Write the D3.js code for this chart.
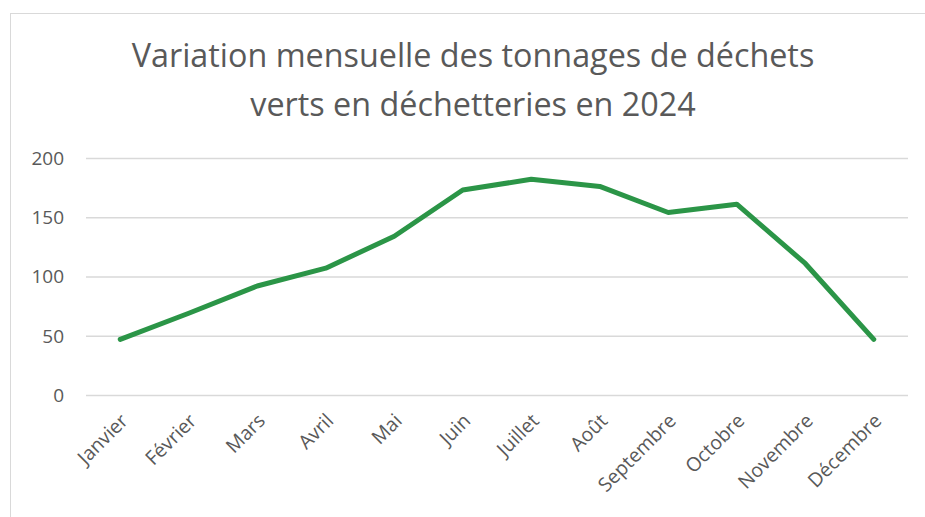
<!DOCTYPE html>
<html>
<head>
<meta charset="utf-8">
<script src="https://cdn.jsdelivr.net/npm/d3@7"></script>
<style>
  body { margin: 0; background: #fff; }
  text { font-family: "Open Sans", sans-serif; fill: #595959; }
</style>
</head>
<body>
<svg id="chart" width="925" height="517"></svg>
<script>
// Données
const months = ["Janvier", "Février", "Mars", "Avril", "Mai", "Juin",
  "Juillet", "Août", "Septembre", "Octobre", "Novembre", "Décembre"];
const tonnages = [47, 69, 92, 107, 134, 173, 182, 176, 154, 161, 111, 47];
const yTicks = [0, 50, 100, 150, 200];
const titleLines = ["Variation mensuelle des tonnages de déchets",
  "verts en déchetteries en 2024"];

const svg = d3.select("#chart");
const plotLeft = 86, plotRight = 908, plotTop = 158, plotBottom = 395;

// cadre
svg.append("rect")
  .attr("x", 10.5).attr("y", 13.5)
  .attr("width", 930).attr("height", 520)
  .attr("fill", "none").attr("stroke", "#d9d9d9");

const x = d3.scalePoint().domain(months).range([plotLeft, plotRight]).padding(0.5);
const y = d3.scaleLinear().domain([0, 200]).range([plotBottom, plotTop]);

// grille
svg.append("g")
  .selectAll("line")
  .data(yTicks)
  .join("line")
  .attr("x1", plotLeft).attr("x2", plotRight)
  .attr("y1", d => y(d) + 0.5).attr("y2", d => y(d) + 0.5)
  .attr("stroke", "#d9d9d9").attr("stroke-width", 1.3);

// axe y
svg.append("g")
  .selectAll("text")
  .data(yTicks)
  .join("text")
  .attr("x", 64).attr("y", d => y(d))
  .attr("dy", "0.36em")
  .attr("text-anchor", "end")
  .style("font-size", "19px")
  .text(d => d);

// axe x
svg.append("g")
  .selectAll("text")
  .data(months)
  .join("text")
  .attr("transform", d => `translate(${x(d) + 9},${plotBottom + 27}) rotate(-45)`)
  .attr("text-anchor", "end")
  .style("font-size", "19.5px")
  .text(d => d);

// titre
const title = svg.append("g");
titleLines.forEach((t, i) => {
  title.append("text")
    .attr("x", 473).attr("y", 67 + i * 49)
    .attr("text-anchor", "middle")
    .style("font-size", "29px")
    .text(t);
});
// ajuster la largeur de la 1re ligne (683px env.)
const w = title.select("text").node().getComputedTextLength();
title.selectAll("text").style("font-size", (29 * 683 / w) + "px");

// courbe
const line = d3.line()
  .x((d, i) => x(months[i]))
  .y(d => y(d));

svg.append("path")
  .datum(tonnages)
  .attr("d", line)
  .attr("fill", "none")
  .attr("stroke", "#2b9547")
  .attr("stroke-width", 5)
  .attr("stroke-linejoin", "round")
  .attr("stroke-linecap", "round");
</script>
</body>
</html>
